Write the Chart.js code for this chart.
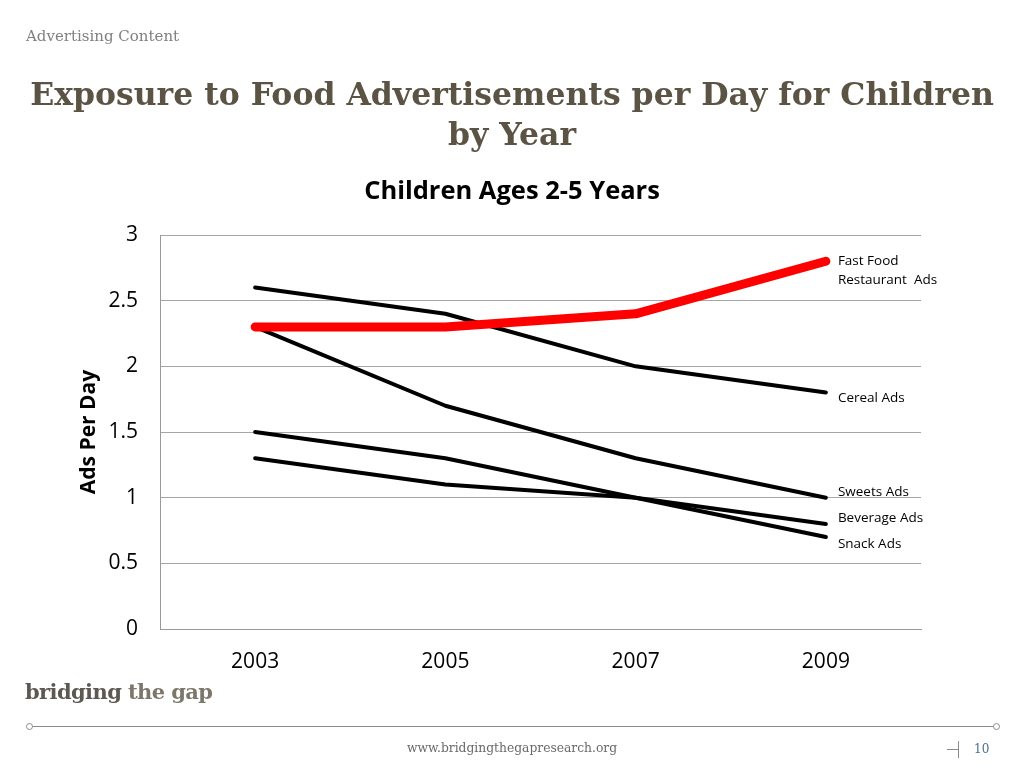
<!DOCTYPE html>
<html>
<head>
<meta charset="utf-8">
<script src="https://cdn.jsdelivr.net/npm/chart.js@4.4.0/dist/chart.umd.min.js"></script>
<style>
  html, body { margin: 0; padding: 0; background: #fff; }
  #page { position: relative; width: 1024px; height: 768px; overflow: hidden; }
  #chart-box { position: absolute; left: 0; top: 0; width: 1024px; height: 768px; }
  .serif { font-family: "DejaVu Serif", Georgia, serif; position: absolute; white-space: nowrap; }
  #section { left: 26px; top: 27px; font-size: 15px; color: #808080; }
  #title { left: 0; width: 1024px; top: 74px; text-align: center; font-size: 31.5px; font-weight: bold; color: #5b5445; line-height: 40px; }
  #logo { left: 25px; top: 679px; font-size: 21px; font-weight: bold; color: #5d5952; letter-spacing: -0.6px; }
  #logo span { color: #7d776b; }
  #rule { position: absolute; left: 30px; top: 726px; width: 966px; height: 1px; background: #8a8a8a; }
  .dot { position: absolute; width: 5px; height: 5px; border: 1px solid #8a8a8a; border-radius: 50%; background: #fff; top: 723px; }
  #url { left: 0; width: 1024px; text-align: center; top: 741px; font-size: 12.3px; color: #6a6a6a; }
  #pg { left: 974px; top: 742px; font-size: 12px; color: #4f6f8f; }
  #mark-h { position: absolute; left: 947px; top: 749px; width: 11px; height: 1px; background: #8a8a8a; }
  #mark-v { position: absolute; left: 958px; top: 741px; width: 1px; height: 17px; background: #8a8a8a; }
</style>
</head>
<body>
<div id="page">
  <div id="chart-box"><canvas id="main-canvas"></canvas></div>
  <div id="section" class="serif">Advertising Content</div>
  <div id="title" class="serif">Exposure to Food Advertisements per Day for Children<br>by Year</div>
  <div id="logo" class="serif">bridging <span>the gap</span></div>
  <div id="rule"></div>
  <div class="dot" style="left:26px"></div>
  <div class="dot" style="left:993px"></div>
  <div id="url" class="serif">www.bridgingthegapresearch.org</div>
  <div id="mark-h"></div><div id="mark-v"></div>
  <div id="pg" class="serif">10</div>
</div>
<script>
const years = ['2003', '2005', '2007', '2009'];
const yTicks = [0, 0.5, 1, 1.5, 2, 2.5, 3];

const fastFoodAds = [2.3, 2.3, 2.4, 2.8];
const cerealAds   = [2.6, 2.4, 2.0, 1.8];
const sweetsAds   = [2.3, 1.7, 1.3, 1.0];
const beverageAds = [1.3, 1.1, 1.0, 0.8];
const snackAds    = [1.5, 1.3, 1.0, 0.7];

const seriesNames = [['Fast Food', 'Restaurant  Ads'], ['Cereal Ads'], ['Sweets Ads'], ['Beverage Ads'], ['Snack Ads']];
const chartTitle = 'Children Ages 2-5 Years';

const sansFont = '"Open Sans", "Noto Sans", sans-serif';

// chart title centred on the whole canvas (the built-in one centres between the paddings)
const pageTitle = {
    id: 'pageTitle',
    afterDraw(chart, args, opts) {
        const ctx = chart.ctx;
        ctx.save();
        ctx.font = 'bold 25.5px ' + sansFont;
        ctx.fillStyle = '#000';
        ctx.textAlign = 'center';
        ctx.textBaseline = 'middle';
        ctx.fillText(opts.text, chart.width / 2, opts.y);
        ctx.restore();
    }
};

// draws the series name next to the last point of each line
const endLabels = {
    id: 'endLabels',
    afterDatasetsDraw(chart, args, opts) {
        const ctx = chart.ctx;
        ctx.save();
        ctx.font = '13.5px ' + sansFont;
        ctx.fillStyle = '#000';
        ctx.textBaseline = 'middle';
        chart.data.datasets.forEach((ds, i) => {
            const meta = chart.getDatasetMeta(i);
            const last = meta.data[meta.data.length - 1];
            const lines = seriesNames[i];
            const dy = opts.shift[i];
            lines.forEach((txt, k) => {
                ctx.fillText(txt, last.x + 12, last.y + dy + k * 19);
            });
        });
        ctx.restore();
    }
};

function line(label, data, color, width) {
    return {
        label: label,
        data: data,
        borderColor: color,
        backgroundColor: color,
        borderWidth: width,
        borderCapStyle: 'round',
        borderJoinStyle: 'round',
        pointRadius: 0,
        tension: 0,
        fill: false
    };
}

const ctx = document.getElementById('main-canvas').getContext('2d');
const myChart = new Chart(ctx, {
    type: 'line',
    plugins: [endLabels, pageTitle],
    data: {
        labels: years,
        datasets: [
            line('Fast Food Restaurant Ads', fastFoodAds, '#ff0000', 9),
            line('Cereal Ads', cerealAds, '#000', 4),
            line('Sweets Ads', sweetsAds, '#000', 4),
            line('Beverage Ads', beverageAds, '#000', 4),
            line('Snack Ads', snackAds, '#000', 4)
        ]
    },
    options: {
        responsive: true,
        maintainAspectRatio: false,
        animation: false,
        layout: { padding: { left: 76, right: 103, top: 235, bottom: 0 } },
        plugins: {
            legend: { display: false },
            tooltip: { enabled: false },
            title: { display: false },
            pageTitle: { text: chartTitle, y: 192 },
            endLabels: { shift: [0, 6, -6, -6, 7] }
        },
        scales: {
            x: {
                offset: true,
                grid: { color: 'rgba(0,0,0,0)', drawTicks: false },
                border: { display: true, color: '#9a9a9a', width: 1 },
                ticks: { color: '#000', padding: 20, font: { family: sansFont, size: 21 } },
                afterFit: axis => { axis.height = 139; }
            },
            y: {
                min: 0,
                max: 3,
                afterBuildTicks: axis => { axis.ticks = yTicks.map(v => ({ value: v })); },
                grid: { color: '#a6a6a6', drawTicks: false },
                border: { display: true, color: '#9a9a9a', width: 1 },
                ticks: {
                    color: '#000',
                    padding: 22,
                    font: { family: sansFont, size: 21 },
                    callback: v => String(v)
                },
                title: {
                    display: true,
                    text: 'Ads Per Day',
                    color: '#000',
                    padding: 0,
                    font: { family: sansFont, size: 21, weight: 'bold' }
                },
                afterFit: axis => { axis.width = 84; }
            }
        }
    }
});
</script>
</body>
</html>
